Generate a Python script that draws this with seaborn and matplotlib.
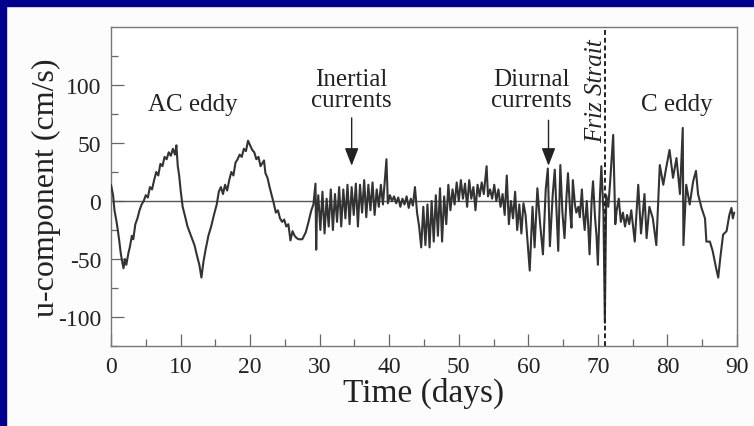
import matplotlib
matplotlib.use("Agg")
import matplotlib.pyplot as plt
from matplotlib.patches import Rectangle
import seaborn as sns
import pandas as pd

# ---- data ----
days = [0.0, 0.3, 0.5, 0.8, 1.0, 1.2, 1.4, 1.6, 1.8, 2.0, 2.2, 2.5, 2.7, 3.0, 3.2, 3.5, 3.8, 4.1, 4.4, 4.7,
        5.0, 5.3, 5.6, 5.9, 6.2, 6.5, 6.8, 7.1, 7.4, 7.7, 8.0, 8.3, 8.6, 8.9, 9.2, 9.4, 9.6, 9.8, 10.0, 10.3,
        10.6, 11.0, 11.5, 12.0, 12.4, 12.7, 13.0, 13.3, 13.6, 14.0, 14.4, 14.8, 15.2, 15.5, 15.8, 16.1, 16.4, 16.7, 17.0, 17.3,
        17.6, 17.9, 18.2, 18.5, 18.8, 19.1, 19.4, 19.7, 20.0, 20.3, 20.6, 20.9, 21.2, 21.5, 21.8, 22.0, 22.2, 22.5, 22.8, 23.1,
        23.4, 23.7, 24.0, 24.3, 24.6, 24.9, 25.2, 25.5, 25.8, 26.1, 26.4, 26.7, 27.0, 27.5, 28.0, 28.4, 28.8, 29.1, 29.4, 29.5,
        29.6, 29.8, 30.1, 30.4, 30.7, 31.0, 31.3, 31.6, 31.9, 32.2, 32.5, 32.8, 33.1, 33.4, 33.7, 34.0, 34.3, 34.6, 34.9, 35.2,
        35.5, 35.8, 36.1, 36.4, 36.7, 37.0, 37.3, 37.6, 37.9, 38.2, 38.5, 38.8, 39.1, 39.6, 39.8, 40.1, 40.4, 40.7, 41.0, 41.3,
        41.6, 41.9, 42.2, 42.5, 42.8, 43.1, 43.4, 43.7, 44.0, 44.3, 44.6, 44.9, 45.2, 45.5, 45.8, 46.1, 46.4, 46.7, 47.0, 47.3,
        47.6, 47.9, 48.2, 48.5, 48.8, 49.1, 49.4, 49.7, 50.0, 50.3, 50.6, 50.9, 51.2, 51.5, 51.8, 52.1, 52.4, 52.7, 53.0, 53.3,
        53.6, 54.0, 54.2, 54.5, 54.8, 55.1, 55.4, 55.7, 56.0, 56.3, 56.6, 56.9, 57.2, 57.5, 57.8, 58.1, 58.4, 58.7, 59.0, 59.3,
        59.6, 60.2, 60.6, 60.9, 61.3, 61.7, 62.1, 62.5, 62.8, 63.1, 63.5, 63.8, 64.1, 64.3, 64.6, 64.9, 65.2, 65.5, 65.7, 66.0,
        66.2, 66.4, 66.7, 66.9, 67.2, 67.4, 67.7, 67.9, 68.1, 68.4, 68.6, 68.8, 69.1, 69.3, 69.6, 69.8, 70.0, 70.3, 70.5, 70.8,
        71.0, 71.2, 71.5, 71.8, 72.2, 72.5, 72.7, 73.0, 73.3, 73.6, 73.9, 74.2, 74.5, 74.8, 75.3, 75.8, 76.2, 76.7, 77.0, 77.4,
        77.9, 78.4, 78.9, 79.4, 79.8, 80.3, 80.8, 81.3, 81.8, 82.2, 82.3, 82.7, 83.2, 83.7, 84.1, 84.4, 84.9, 85.4, 85.6, 86.1,
        86.5, 87.0, 87.3, 87.6, 88.0, 88.5, 88.9, 89.2, 89.4, 89.6]
u_cms = [14, 5, -8, -18, -26, -35, -45, -52, -58, -50, -55, -45, -40, -30, -33, -20, -15, -8, -3, 0,
         5, 3, 12, 10, 18, 25, 22, 32, 30, 38, 36, 42, 39, 45, 40, 48, 30, 22, 10, -5,
         -12, -22, -30, -38, -48, -55, -66, -52, -42, -30, -22, -12, -3, 8, 12, 6, 14, 9, 18, 25,
         22, 33, 36, 40, 38, 45, 43, 52, 48, 44, 42, 36, 38, 30, 33, 35, 24, 20, 12, 5,
         -2, -10, -8, -15, -18, -16, -22, -20, -34, -26, -30, -32, -33, -33, -27, -18, -8, -3, 15, -42,
         -10, 5, -25, 8, -28, 2, -22, 10, -25, 6, -18, 12, -22, 10, -15, 14, -20, 12, -12, 15,
         -22, 14, -10, 18, -14, 14, -8, 16, -12, 10, -5, 14, -3, 36, -2, 5, 0, 4, -2, 3,
         -5, 2, -3, 4, -6, 2, -4, 12, -10, -22, -40, -5, -38, -3, -40, 0, -35, 5, -30, 11,
         -35, 4, -20, 14, -8, 10, -3, 16, 0, 18, 2, 15, -5, 18, 2, 12, -8, 14, 4, 16,
         6, 30, 4, 10, 2, 14, 0, 10, -5, 6, -12, 22, -20, 0, -15, 8, -25, -3, -28, -2,
         -12, -60, -5, -40, 11, -20, -46, 10, 28, -39, 5, 27, -15, -43, 31, -10, -32, 5, 24, -8,
         -23, 18, -3, -10, -5, -14, 10, -12, -25, 0, -20, -46, 0, 17, -15, -30, -55, 5, 30, -10,
         -105, 5, -5, 20, 57, -20, -8, 2, -18, -10, -22, -12, -20, -8, -35, 14, -28, 6, -32, -5,
         -15, -38, 31, 14, 28, 44, 20, 37, 6, 63, -38, 14, -3, 17, 26, 6, -6, -15, -35, -35,
         -43, -58, -66, -49, -29, -26, -12, -6, -15, -10]

x_ticks = [0, 10, 20, 30, 40, 50, 60, 70, 80, 90]
y_ticks = [-100, -50, 0, 50, 100]
strait_day = 71.0

df = pd.DataFrame({"Time (days)": days, "u": u_cms})

sns.set_theme(style="ticks")
plt.rcParams["font.family"] = ["Liberation Serif", "DejaVu Serif"]
plt.rcParams["axes.unicode_minus"] = False

fig = plt.figure(figsize=(7.54, 4.27), dpi=100)
fig.patch.set_facecolor("#fcfcfc")
ax = fig.add_axes([111/754, 1-347/427, (737-111)/754, (347-28)/427])
ax.set_facecolor("white")

ax.axhline(0, color="#555555", lw=1.0, zorder=1)
sns.lineplot(data=df, x="Time (days)", y="u", estimator=None, sort=False,
             color="#333333", lw=1.5, ax=ax, zorder=3)
ax.axvline(strait_day, color="#222222", lw=1.4, ls=(0, (2.5, 1.5)), zorder=4)

ax.set_xlim(0, 90)
ax.set_ylim(-125, 150)
ax.set_xticks(x_ticks)
ax.set_xticks(range(5, 90, 10), minor=True)
ax.set_yticks(y_ticks)
ax.set_yticks([-125, -75, -25, 25, 75, 125], minor=True)
ax.tick_params(which="major", direction="in", length=9, width=0.9, color="#666666",
               labelsize=17, labelcolor="#222222", pad=7)
ax.tick_params(which="minor", direction="in", length=5, width=0.9, color="#666666")
for s in ax.spines.values():
    s.set_color("#777777")
    s.set_linewidth(1.0)

ax.set_xlabel("Time (days)", fontsize=24, color="#222222", labelpad=0)
ax.set_ylabel("u-component (cm/s)", fontsize=23, color="#222222", labelpad=-2)

tc = "#222222"
ax.text(11.8, 84, "AC eddy", fontsize=18, ha="center", va="center", color=tc)
ax.text(34.6, 96, "Inertial\ncurrents", fontsize=18, ha="center", va="center",
        color=tc, linespacing=0.9)
ax.text(60.4, 96, "Diurnal\ncurrents", fontsize=18, ha="center", va="center",
        color=tc, linespacing=0.9)
ax.text(81.4, 84, "C eddy", fontsize=18, ha="center", va="center", color=tc)
ax.text(69.7, 96, "Friz Strait", fontsize=18, ha="center", va="center", color=tc,
        rotation=90, style="italic")

arrow_kw = dict(arrowstyle="-|>,head_length=0.9,head_width=0.35", color="#222222", lw=1.0)
ax.annotate("", xy=(34.6, 28), xytext=(34.6, 74), arrowprops=arrow_kw)
ax.annotate("", xy=(62.9, 28), xytext=(62.9, 72), arrowprops=arrow_kw)

# dark blue frame (top and left)
fig.patches.append(Rectangle((0, 1-7/427), 1, 7/427, transform=fig.transFigure,
                             color="#00008c", zorder=10))
fig.patches.append(Rectangle((0, 0), 6/754, 1, transform=fig.transFigure,
                             color="#00008c", zorder=10))

fig.savefig("out.png", dpi=100)
